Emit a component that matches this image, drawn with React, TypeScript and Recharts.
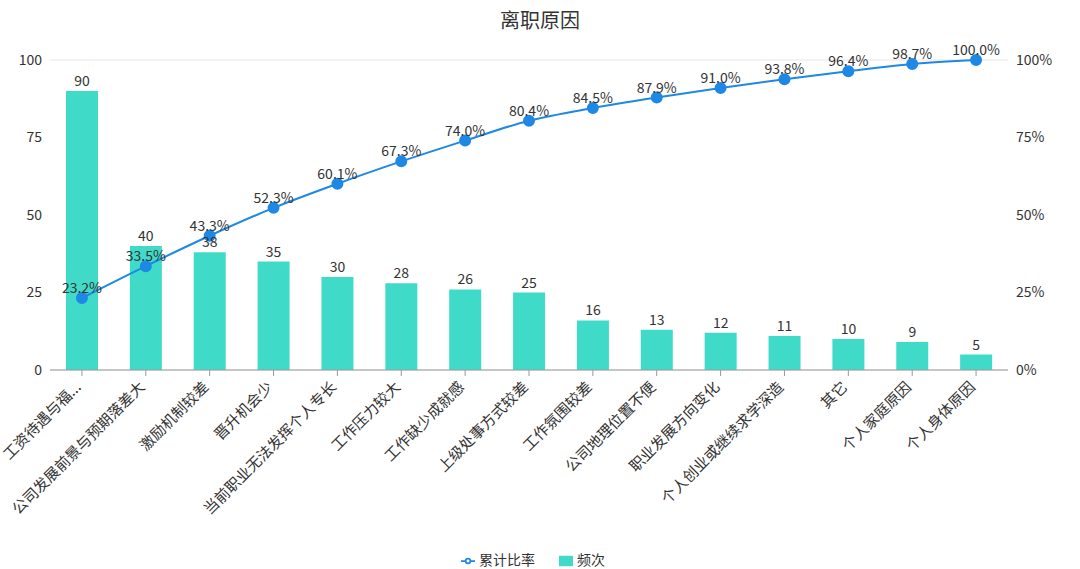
import {
  ComposedChart,
  Bar,
  Line,
  XAxis,
  YAxis,
  CartesianGrid,
  Legend,
  LabelList,
} from "recharts";

const reasons = [
  "工资待遇与福...",
  "公司发展前景与预期落差大",
  "激励机制较差",
  "晋升机会少",
  "当前职业无法发挥个人专长",
  "工作压力较大",
  "工作缺少成就感",
  "上级处事方式较差",
  "工作氛围较差",
  "公司地理位置不便",
  "职业发展方向变化",
  "个人创业或继续求学深造",
  "其它",
  "个人家庭原因",
  "个人身体原因",
];
const counts = [90, 40, 38, 35, 30, 28, 26, 25, 16, 13, 12, 11, 10, 9, 5];
const cumulative = [23.2, 33.5, 43.3, 52.3, 60.1, 67.3, 74.0, 80.4, 84.5, 87.9, 91.0, 93.8, 96.4, 98.7, 100.0];

const data = reasons.map((name, i) => ({
  name,
  count: counts[i],
  cum: cumulative[i],
}));

const font = '"Noto Sans CJK SC", "Noto Sans", sans-serif';

const AngledTick = ({ x, y, payload }: any) => (
  <text
    x={x}
    y={y + 10}
    transform={`rotate(-45, ${x}, ${y + 10})`}
    textAnchor="end"
    fontSize={15}
    fill="#333"
    fontFamily={font}
  >
    {payload.value}
  </text>
);

const App = () => {
  return (
    <div style={{ position: "absolute", left: 0, top: 0, width: 1080, height: 569, fontFamily: font }}>
      <div style={{ position: "absolute", top: 5, width: 1080, textAlign: "center", fontSize: 20, color: "#333" }}>
        离职原因
      </div>
      <ComposedChart
        width={1080}
        height={569}
        data={data}
        margin={{ top: 60, right: 0, left: 10, bottom: 0 }}
      >
        <CartesianGrid vertical={false} stroke="#e6e6e6" />
        <XAxis
          dataKey="name"
          interval={0}
          tick={<AngledTick />}
          height={179}
          stroke="#999"
          tickLine={{ stroke: "#999" }}
        />
        <YAxis
          yAxisId="left"
          domain={[0, 100]}
          ticks={[0, 25, 50, 75, 100]}
          axisLine={false}
          tickLine={false}
          width={40}
          tick={{ fontSize: 14, fill: "#333" }}
        />
        <YAxis
          yAxisId="right"
          orientation="right"
          domain={[0, 100]}
          ticks={[0, 25, 50, 75, 100]}
          tickFormatter={(v) => `${v}%`}
          axisLine={false}
          tickLine={false}
          width={72}
          tick={{ fontSize: 14, fill: "#333" }}
        />
        <Legend
          verticalAlign="bottom"
          height={20}
          iconSize={14}
          wrapperStyle={{ fontSize: 14 }}
          formatter={(v: any) => <span style={{ color: "#333", marginRight: 14 }}>{v}</span>}
          payload={[
            { value: "累计比率", type: "line", color: "#1e88e5", id: "cum" },
            { value: "频次", type: "square", color: "#40dbc8", id: "count" },
          ]}
        />
        <Bar yAxisId="left" dataKey="count" name="频次" fill="#40dbc8" barSize={32} isAnimationActive={false}>
          <LabelList dataKey="count" position="top" fontSize={14} fill="#333" />
        </Bar>
        <Line
          yAxisId="right"
          dataKey="cum"
          name="累计比率"
          type="monotone"
          stroke="#1e88e5"
          strokeWidth={2}
          dot={{ r: 5, fill: "#1e88e5", stroke: "#1e88e5" }}
          isAnimationActive={false}
        >
          <LabelList dataKey="cum" position="top" fontSize={14} fill="#333" formatter={(v: any) => `${Number(v).toFixed(1)}%`} />
        </Line>
      </ComposedChart>
    </div>
  );
};

export default App;
